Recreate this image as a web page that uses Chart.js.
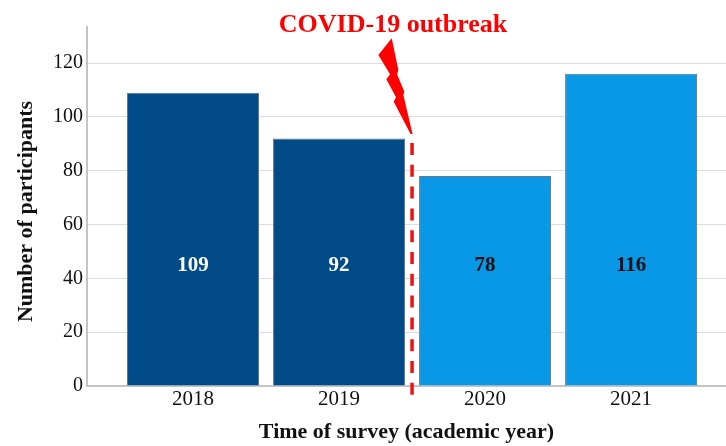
<!DOCTYPE html>
<html>
<head>
<meta charset="utf-8">
<script src="https://cdn.jsdelivr.net/npm/chart.js@4/dist/chart.umd.min.js"></script>
<style>
  html, body { margin: 0; padding: 0; background: #ffffff; }
  #wrap { width: 726px; height: 446px; }
</style>
</head>
<body>
<div id="wrap"><canvas id="chart" width="726" height="446"></canvas></div>
<script>
// Survey participants per academic year
const years = ['2018', '2019', '2020', '2021'];
const participants = [109, 92, 78, 116];
const yTickValues = [0, 20, 40, 60, 80, 100, 120];

const barColors = ['#004a88', '#004a88', '#0898e6', '#0898e6'];
const labelColors = ['#ffffff', '#ffffff', '#111111', '#111111'];
const LABEL_LEVEL = 44.6;     // y value where the count labels sit
const OUTBREAK_AT = 1.5;      // between 2019 and 2020
const OUTBREAK_TOP = 90.3;    // top of the dashed divider (y value)

const SERIF = '"Liberation Serif", "Times New Roman", serif';

// lightning bolt outline, offsets in px from its lower tip
const bolt = [
  [-20.3, -95.7], [-13.7, -64], [-15, -59.7], [-7.7, -42.3], [-8.7, -39],
  [0.5, 0], [-1.5, 0], [-18.3, -32.3], [-16, -36.7], [-25.7, -54.7],
  [-22, -59.7], [-33.7, -79]
];

const overlay = {
  id: 'overlay',
  afterDatasetsDraw(chart) {
    const { ctx, scales: { x, y } } = chart;
    const meta = chart.getDatasetMeta(0);
    ctx.save();

    // counts inside the bars
    ctx.font = 'bold 21px ' + SERIF;
    ctx.textAlign = 'center';
    ctx.textBaseline = 'middle';
    meta.data.forEach((bar, i) => {
      ctx.fillStyle = labelColors[i];
      ctx.fillText(String(participants[i]), bar.x, y.getPixelForValue(LABEL_LEVEL));
    });

    // dashed divider at the outbreak
    const lx = x.getPixelForValue(OUTBREAK_AT);
    const top = y.getPixelForValue(OUTBREAK_TOP);
    ctx.strokeStyle = '#ee1111';
    ctx.lineWidth = 3.5;
    ctx.setLineDash([12, 9.8]);
    ctx.beginPath();
    ctx.moveTo(lx, top);
    ctx.lineTo(lx, y.bottom + 10);
    ctx.stroke();
    ctx.setLineDash([]);

    // lightning bolt
    const tipX = lx, tipY = top - 9;
    ctx.fillStyle = '#ff0000';
    ctx.beginPath();
    bolt.forEach(([dx, dy], i) => {
      if (i === 0) ctx.moveTo(tipX + dx, tipY + dy);
      else ctx.lineTo(tipX + dx, tipY + dy);
    });
    ctx.closePath();
    ctx.fill();

    // annotation text
    ctx.font = 'bold 26px ' + SERIF;
    ctx.fillStyle = '#ff0000';
    ctx.textAlign = 'center';
    ctx.textBaseline = 'alphabetic';
    ctx.fillText('COVID-19 outbreak', lx - 19, 32);

    // y axis title
    ctx.translate(32, (y.top + y.bottom) / 2 + 5);
    ctx.rotate(-Math.PI / 2);
    ctx.font = 'bold 22px ' + SERIF;
    ctx.fillStyle = '#111111';
    ctx.fillText('Number of participants', 0, 0);

    ctx.restore();
  }
};

new Chart(document.getElementById('chart'), {
  type: 'bar',
  data: {
    datasets: [{
      data: participants.map((v, i) => ({ x: i, y: v })),
      backgroundColor: barColors,
      borderColor: 'rgba(70, 95, 120, 0.85)',
      borderWidth: 1,
      barPercentage: 0.904,
      categoryPercentage: 1
    }]
  },
  options: {
    responsive: false,
    animation: false,
    layout: { padding: { top: 27, right: 0, left: 0, bottom: 0 } },
    plugins: {
      legend: { display: false },
      tooltip: { enabled: false },
      title: { display: false }
    },
    scales: {
      x: {
        type: 'linear',
        offset: false,
        min: -0.726,
        max: 3.65,
        afterFit(scale) { scale.height = 60; },
        afterBuildTicks(scale) {
          scale.ticks = years.map((_, i) => ({ value: i }));
        },
        grid: { display: false, drawTicks: false },
        border: { display: true, color: '#c4c4c4', width: 2 },
        ticks: {
          padding: 1,
          color: '#111111',
          font: { family: SERIF, size: 21 },
          callback: (v) => years[v] ?? ''
        },
        title: {
          display: true,
          text: 'Time of survey (academic year)',
          color: '#111111',
          font: { family: SERIF, size: 22, weight: 'bold' },
          padding: { top: 0, bottom: 0 }
        }
      },
      y: {
        min: 0,
        max: 133.4,
        afterFit(scale) { scale.width = 87; },
        afterBuildTicks(scale) {
          scale.ticks = yTickValues.map(v => ({ value: v }));
        },
        grid: { color: '#dddddd', lineWidth: 1, drawTicks: false },
        border: { display: true, color: '#c4c4c4', width: 2 },
        ticks: {
          padding: 4,
          color: '#111111',
          font: { family: SERIF, size: 20 }
        }
      }
    }
  },
  plugins: [overlay]
});
</script>
</body>
</html>
